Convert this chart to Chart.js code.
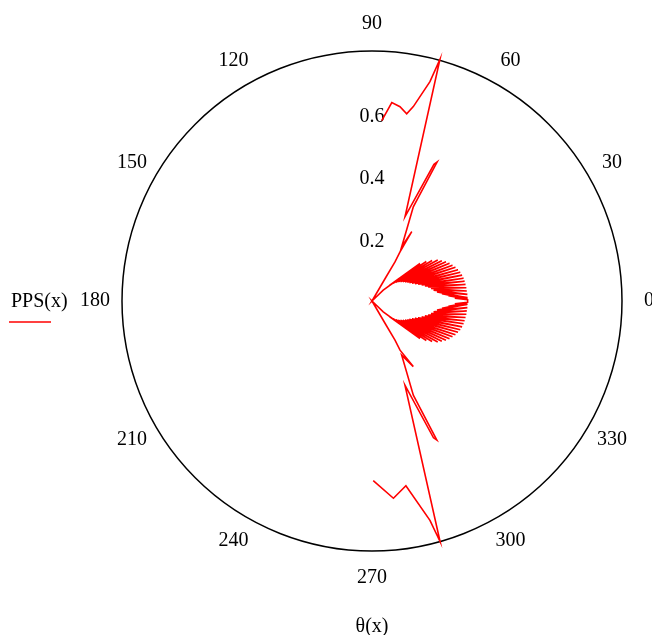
<!DOCTYPE html>
<html>
<head>
<meta charset="utf-8">
<script src="https://cdn.jsdelivr.net/npm/chart.js@4.4.1/dist/chart.umd.min.js"></script>
<style>
  body { margin: 0; background: #fff; }
  canvas { display: block; }
</style>
</head>
<body>
<canvas id="polarChart" width="652" height="635"></canvas>
<script>
// theta(x) in degrees and PPS(x)
const thetaDeg = [
  86.9, 84.3, 81.8, 79.5, 78.0, 75.2, 74.3, 68.6, 65.6, 64.9, 66.3, 61.3, 60.2, 60.3, 59.5, 59.7, 60.0,
  44, 38, 42, 36, 40, 34, 38, 32, 36, 30, 34, 28, 32, 26, 30, 24, 28, 22, 26, 20, 24, 18, 22, 16,
  20, 14, 18, 12, 16, 10, 14, 8, 12, 6, 10, 4, 8, 2, 6, 1.2, 4, 1.0, 2, 0.8,
  -0.8, -2, -1.0, -4, -1.2, -6, -2, -8, -4, -10, -6, -12, -8, -14, -10, -16, -12, -18, -14, -20,
  -16, -22, -18, -24, -20, -26, -22, -28, -24, -30, -26, -32, -28, -34, -30, -36, -32, -38, -34, -40,
  -36, -42, -38, -44,
  -60.0, -59.7, -59.5, -60.3, -57.8, -61.3, -66.3, -65.0, -65.8, -68.6, -74.2, -75.2, -79.6, -83.8, -89.6
];
const pps = [
  0.578, 0.638, 0.628, 0.609, 0.636, 0.726, 0.803, 0.290, 0.480, 0.491, 0.329, 0.198, 0.256, 0.181, 0.145, 0.089, 0.0,
  0.05, 0.195, 0.075, 0.215, 0.088, 0.232, 0.097, 0.248, 0.104, 0.258, 0.11, 0.268, 0.116, 0.276, 0.122, 0.282, 0.128, 0.288, 0.133, 0.293, 0.14, 0.297, 0.148, 0.300,
  0.157, 0.302, 0.167, 0.303, 0.176, 0.304, 0.185, 0.305, 0.193, 0.305, 0.200, 0.306, 0.210, 0.306, 0.225, 0.306, 0.245, 0.306, 0.265, 0.306,
  0.306, 0.265, 0.306, 0.245, 0.306, 0.225, 0.306, 0.210, 0.306, 0.200, 0.305, 0.193, 0.305, 0.185, 0.304, 0.176, 0.303, 0.167, 0.302, 0.157,
  0.300, 0.148, 0.297, 0.14, 0.293, 0.133, 0.288, 0.128, 0.282, 0.122, 0.276, 0.116, 0.268, 0.11, 0.258, 0.104, 0.248, 0.097, 0.232, 0.088,
  0.215, 0.075, 0.195, 0.05,
  0.0, 0.089, 0.145, 0.181, 0.248, 0.198, 0.329, 0.491, 0.480, 0.289, 0.80, 0.726, 0.601, 0.635, 0.575
];

const angleTicks = [0, 30, 60, 90, 120, 150, 180, 210, 240, 270, 300, 330];
const angleLabels = ['0', '30', '60', '90', '120', '150', '180', '210', '240', '270', '300', '330'];
const radialTicks = [0.2, 0.4, 0.6];
const radialLabels = ['0.2', '0.4', '0.6'];
const rMax = 0.8;

const FONT = '20px "Liberation Serif", "Times New Roman", serif';

const points = thetaDeg.map((t, i) => ({
    x: pps[i] * Math.cos(t * Math.PI / 180),
    y: pps[i] * Math.sin(t * Math.PI / 180)
}));

// circle, angle labels, radial labels, legend and axis title
const polarFrame = {
    id: 'polarFrame',
    beforeDatasetsDraw(chart) {
        const ctx = chart.ctx;
        const xs = chart.scales.x, ys = chart.scales.y;
        const cx = xs.getPixelForValue(0), cy = ys.getPixelForValue(0);
        const R = xs.getPixelForValue(rMax) - cx;
        ctx.save();
        ctx.strokeStyle = '#000';
        ctx.lineWidth = 1.5;
        ctx.beginPath();
        ctx.arc(cx, cy, R, 0, Math.PI * 2);
        ctx.stroke();

        ctx.fillStyle = '#000';
        ctx.font = FONT;
        ctx.textAlign = 'center';
        ctx.textBaseline = 'middle';
        const labelR = R + 27;
        angleTicks.forEach((a, i) => {
            const rad = a * Math.PI / 180;
            ctx.fillText(angleLabels[i], cx + labelR * Math.cos(rad), cy - labelR * Math.sin(rad));
        });
        radialTicks.forEach((v, i) => {
            ctx.fillText(radialLabels[i], cx, ys.getPixelForValue(v) + 3);
        });

        // legend
        ctx.textAlign = 'left';
        ctx.fillText('PPS(x)', 11, 302);
        ctx.strokeStyle = '#ff0000';
        ctx.lineWidth = 1.5;
        ctx.beginPath();
        ctx.moveTo(9, 322);
        ctx.lineTo(51, 322);
        ctx.stroke();

        // angle variable
        ctx.textAlign = 'center';
        ctx.fillText('θ(x)', cx, 627);
        ctx.restore();
    }
};

new Chart(document.getElementById('polarChart'), {
    type: 'scatter',
    data: {
        datasets: [{
            label: 'PPS(x)',
            data: points,
            showLine: true,
            borderColor: '#ff0000',
            borderWidth: 1.6,
            pointRadius: 0,
            tension: 0,
            fill: false
        }]
    },
    options: {
        responsive: false,
        animation: false,
        layout: { padding: { left: 122, right: 30, top: 51, bottom: 84 } },
        scales: {
            x: { type: 'linear', min: -rMax, max: rMax, display: false },
            y: { type: 'linear', min: -rMax, max: rMax, display: false }
        },
        plugins: {
            legend: { display: false },
            tooltip: { enabled: false }
        }
    },
    plugins: [polarFrame]
});
</script>
</body>
</html>
